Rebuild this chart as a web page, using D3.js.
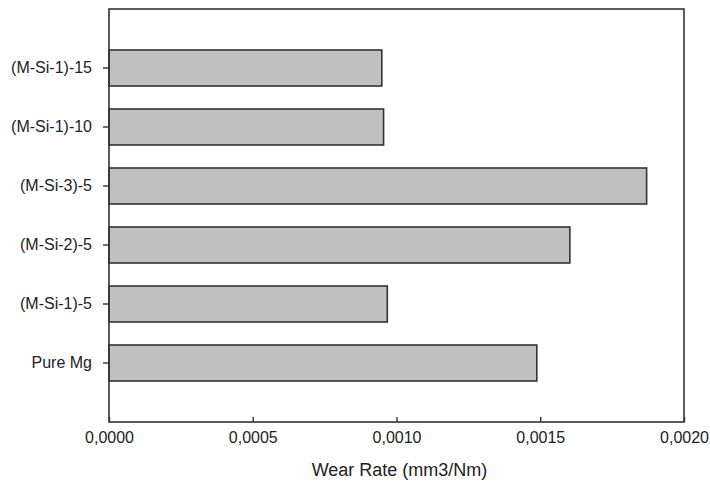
<!DOCTYPE html>
<html>
<head>
<meta charset="utf-8">
<script src="https://cdn.jsdelivr.net/npm/d3@7"></script>
<style>
  body { margin: 0; background: #fff; }
  text { font-family: "Liberation Sans", Arial, sans-serif; fill: #222; }
</style>
</head>
<body>
<div id="chart"></div>
<script>
const categories = ['(M-Si-1)-15', '(M-Si-1)-10', '(M-Si-3)-5', '(M-Si-2)-5', '(M-Si-1)-5', 'Pure Mg'];
const wearRates = [0.000949, 0.000955, 0.00187, 0.001603, 0.000968, 0.001488];
const xTicks = [0, 0.0005, 0.001, 0.0015, 0.002];
const xTitle = 'Wear Rate (mm3/Nm)';

const width = 710;
const height = 486;
const margin = { top: 9, right: 26, bottom: 64, left: 109 };
const innerW = width - margin.left - margin.right;
const innerH = height - margin.top - margin.bottom;

const svg = d3.select('#chart')
  .append('svg')
  .attr('width', width)
  .attr('height', height);

const g = svg.append('g')
  .attr('transform', `translate(${margin.left},${margin.top})`);

const x = d3.scaleLinear()
  .domain([0, 0.002])
  .range([0, innerW]);

const y = d3.scaleBand()
  .domain(categories)
  .range([0, innerH])
  .paddingInner(0.39)
  .paddingOuter(0.695);

const locale = d3.formatLocale({ decimal: ',', thousands: '.', grouping: [3], currency: ['', ''] });
const fmt = locale.format('.4f');

// bars
g.selectAll('rect.bar')
  .data(categories.map((c, i) => ({ cat: c, value: wearRates[i] })))
  .enter()
  .append('rect')
  .attr('class', 'bar')
  .attr('x', 0)
  .attr('y', d => y(d.cat))
  .attr('width', d => x(d.value))
  .attr('height', y.bandwidth())
  .attr('fill', '#c0c0c0')
  .attr('stroke', '#333')
  .attr('stroke-width', 1.6);

// frame
g.append('rect')
  .attr('width', innerW)
  .attr('height', innerH)
  .attr('fill', 'none')
  .attr('stroke', '#333')
  .attr('stroke-width', 1.6);

// x axis, ticks pointing inward
const xAxis = g.append('g')
  .attr('transform', `translate(0,${innerH})`)
  .call(d3.axisBottom(x).tickValues(xTicks).tickFormat(fmt).tickSizeInner(-5).tickSizeOuter(0).tickPadding(10));
xAxis.select('.domain').remove();
xAxis.selectAll('line').attr('stroke', '#333').attr('stroke-width', 1.4);
xAxis.selectAll('text').attr('font-size', '16px').attr('fill', '#222');

// y axis, ticks pointing outward
const yAxis = g.append('g')
  .call(d3.axisLeft(y).tickSizeInner(6).tickSizeOuter(0).tickPadding(11));
yAxis.select('.domain').remove();
yAxis.selectAll('line').attr('stroke', '#333').attr('stroke-width', 1.4);
yAxis.selectAll('text').attr('font-size', '16px').attr('fill', '#222');

// axis title
g.append('text')
  .attr('x', innerW / 2 + 3)
  .attr('y', innerH + 54)
  .attr('text-anchor', 'middle')
  .attr('font-size', '18px')
  .text(xTitle);
</script>
</body>
</html>
